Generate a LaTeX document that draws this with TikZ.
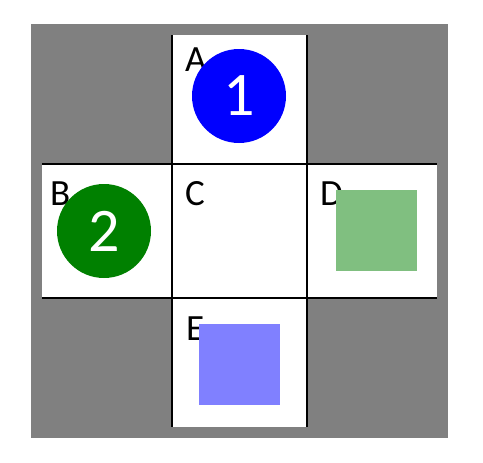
\documentclass[tikz,border=0pt]{standalone}
\usepackage{fontspec}
\setmainfont{Carlito}
\begin{document}
\begin{tikzpicture}[x=1pt, y=-1pt]
		\useasboundingbox (0, 0) rectangle (483, 463);

		\coordinate (tl) at (31, 24);
		\coordinate (br) at (448, 438);

		\fill[gray] (tl) rectangle (br);
		\fill[white] (172, 35) rectangle (307, 164);
		\fill[white] (42, 164) rectangle (437, 298);
		\fill[white] (172, 298) rectangle (307, 427);

		\draw[line width=1.5pt] (42, 164) -- (437, 164);
		\draw[line width=1.5pt] (42, 298) -- (437, 298);
		\draw[line width=1.5pt] (172, 35) -- (172, 427);
		\draw[line width=1.5pt] (307, 35) -- (307, 427);

		\node[anchor=base west, inner sep=0, font=\fontsize{37}{37}\selectfont] (a) at (185, 71) {A};
		\node[anchor=base west, inner sep=0, font=\fontsize{37}{37}\selectfont] (b) at (50, 205) {B};
		\node[anchor=base west, inner sep=0, font=\fontsize{37}{37}\selectfont] (c) at (185, 205) {C};
		\node[anchor=base west, inner sep=0, font=\fontsize{37}{37}\selectfont] (d) at (320, 205) {D};
		\node[anchor=base west, inner sep=0, font=\fontsize{37}{37}\selectfont] (e) at (186, 340) {E};

		\node[circle, fill=blue, text=white, minimum size=94, inner sep=0, font=\fontsize{62}{62}\selectfont] (one) at (239, 96) {1};
		\node[circle, fill=green!50!black, text=white, minimum size=94, inner sep=0, font=\fontsize{62}{62}\selectfont] (two) at (104, 231) {2};

		\fill[green!50!black!50] (336, 190) rectangle (417, 271);
		\fill[blue!50] (199, 324) rectangle (280, 405);
	\end{tikzpicture}
\end{document}
